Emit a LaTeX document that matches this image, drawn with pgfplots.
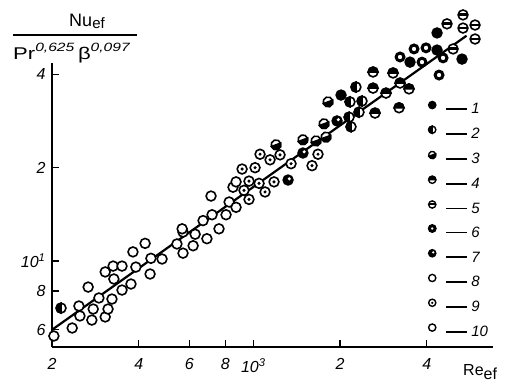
\documentclass[border=0pt]{standalone}
\usepackage{fontspec}
\setmainfont{Liberation Sans}
\usepackage{graphicx}
\usepackage{pgfplots}
\pgfplotsset{compat=1.18}
\usetikzlibrary{plotmarks}

\pgfdeclareplotmark{halfc}{%
  \pgfpathcircle{\pgfpointorigin}{\pgfplotmarksize}%
  \pgfsetfillcolor{white}\pgfusepathqfillstroke
  \pgfpathmoveto{\pgfqpoint{\pgfplotmarksize}{0pt}}%
  \pgfpatharc{0}{180}{\pgfplotmarksize}%
  \pgfpathclose
  \pgfsetfillcolor{black}\pgfusepathqfillstroke
}
\pgfdeclareplotmark{holefill}{%
  \pgfpathcircle{\pgfpointorigin}{\pgfplotmarksize}%
  \pgfsetfillcolor{black}\pgfusepathqfillstroke
  \pgfpathcircle{\pgfqpoint{0.25\pgfplotmarksize}{0.25\pgfplotmarksize}}{0.35\pgfplotmarksize}%
  \pgfsetfillcolor{white}\pgfusepathqfill
}
\pgfdeclareplotmark{ringthick}{%
  \pgfsetlinewidth{3pt}%
  \pgfpathcircle{\pgfpointorigin}{0.8\pgfplotmarksize}%
  \pgfsetfillcolor{white}\pgfusepathqfillstroke
}
\pgfdeclareplotmark{dotcirc}{%
  \pgfpathcircle{\pgfpointorigin}{\pgfplotmarksize}%
  \pgfsetfillcolor{white}\pgfusepathqfillstroke
  \pgfpathcircle{\pgfpointorigin}{0.35\pgfplotmarksize}%
  \pgfsetfillcolor{black}\pgfusepathqfill
}
\pgfdeclareplotmark{barcirc}{%
  \pgfpathcircle{\pgfpointorigin}{\pgfplotmarksize}%
  \pgfsetfillcolor{white}\pgfusepathqfillstroke
  \pgfpathrectangle{\pgfqpoint{-\pgfplotmarksize}{-0.15\pgfplotmarksize}}{\pgfqpoint{2\pgfplotmarksize}{0.45\pgfplotmarksize}}%
  \pgfsetfillcolor{black}\pgfusepathqfill
}
\pgfdeclareplotmark{opencirc}{%
  \pgfpathcircle{\pgfpointorigin}{\pgfplotmarksize}%
  \pgfsetfillcolor{white}\pgfusepathqfillstroke
}

\pgfplotsset{
  pt/.style={only marks, black, mark size=4.9pt, line width=1.6pt, mark options={solid}},
}
\newcommand{\lgd}[1]{\hspace{10pt}\rule[4pt]{21pt}{1.8pt}\hspace{4pt}\textit{#1}}

\begin{document}
\begin{tikzpicture}
\useasboundingbox (-52pt,-39pt) rectangle (453pt,347pt);
\begin{axis}[
  xmode=log, ymode=log,
  scale only axis, width=441pt, height=342pt,
  xmin=200, xmax=6796, ymin=5.28, ymax=66.95,
  axis x line=bottom, axis y line=left,
  axis line style={-, line width=1.8pt},
  y axis line style={draw=none},
  xtick={200,400,600,800,1000,2000,4000},
  xticklabels={2,4,6,8,10\textsuperscript{3},2,4},
  ytick={6,8,10,20,40},
  yticklabels={6,8,10\textsuperscript{1},2,4},
  minor xtick={}, minor ytick={},
  tick align=inside, major tick length=7pt,
  tick style={line width=1.3pt, black},
  tick label style={font=\fontsize{16}{18}\selectfont\itshape},
  xticklabel style={yshift=-8pt},
  yticklabel style={xshift=-3pt},
  clip=false,
  legend cell align=left,
  legend style={draw=none, fill=none, at={(axis description cs:0.853,0.718)}, anchor=north west,
    inner sep=0pt, outer sep=0pt, nodes={inner sep=0pt}, row sep=10.7pt,
    font=\fontsize{15}{16}\selectfont},
  legend image code/.code={\draw[mark repeat=2,mark phase=2,#1,mark size=3.6pt,line width=1.4pt] plot coordinates {(0pt,4.5pt) (8.5pt,4.5pt) (17pt,4.5pt)};},
]
\addplot[black, line width=2.2pt, forget plot] coordinates {(200,6.0) (5500,53.3)};

% series 1
\addplot[pt, mark=*, mark options={fill=black}] coordinates {
(2016,34.3) (4344,54.4) (4344,47.9) (3500,43.8) (5304,44.8)};
\addlegendentry{\lgd{1}}
% series 2
\addplot[pt, mark=halfc, mark options={rotate=90}] coordinates {
(215,7.05) (2166,32.6) (2150,29.1) (2184,27.1) (2272,36.4) (2385,32.8) (2328,30.2)};
\addlegendentry{\lgd{2}}
% series 3
\addplot[pt, mark=halfc, mark options={rotate=200}] coordinates {
(1199,23.7) (1487,24.6) (1651,24.4) (1788,25.1) (1760,27.7) (1817,32.6)};
\addlegendentry{\lgd{3}}
% series 4
\addplot[pt, mark=halfc] coordinates {
(2604,36.1) (2646,30.0) (2889,34.8) (3206,31.2) (3232,37.5) (3472,35.9) (3056,40.4) (2604,40.7)};
\addlegendentry{\lgd{4}}
% series 5
\addplot[pt, mark=barcirc] coordinates {
(5346,62.2) (4704,58.2) (5886,57.7) (5346,56.4) (5886,52.0) (4938,48.3)};
\addlegendentry{\lgd{5}}
% series 6
\addplot[pt, mark=ringthick] coordinates {
(3978,48.7) (3614,48.3) (3232,45.5) (3852,43.8) (4558,45.2) (4414,39.8)};
\addlegendentry{\lgd{6}}
% series 7
\addplot[pt, mark=holefill] coordinates {
(1320,18.25) (1487,22.3) (1953,28.3)};
\addlegendentry{\lgd{7}}
% series 8
\addplot[pt, mark=opencirc] coordinates {
(543,11.35) (570,10.6) (618,11.2) (570,12.4) (628,12.2) (690,11.8) (566,12.7) (669,13.5)
(719,14.1) (760,12.7) (713,16.2) (804,14.1) (824,15.5) (850,17.3) (871,18.0) (871,14.9)};
\addlegendentry{\lgd{8}}
% series 9
\addplot[pt, mark=dotcirc] coordinates {
(914,19.8) (928,16.9) (966,15.8) (966,18.1) (1014,20.0) (1047,17.8) (1098,16.7) (1055,22.1)
(1143,21.2) (1180,18.0) (1238,22.0) (1352,20.6) (1599,20.3) (1677,22.1)};
\addlegendentry{\lgd{9}}
% series 10
\addplot[pt, mark=opencirc] coordinates {
(203,5.73) (235,6.08) (248,7.16) (250,6.65) (267,8.24) (278,7.00) (275,6.45) (291,7.60)
(306,6.60) (306,9.22) (313,7.00) (323,7.54) (326,9.63) (328,8.75) (350,9.63) (350,8.06)
(376,8.43) (382,10.7) (391,9.56) (421,11.4) (438,9.08) (441,10.2) (482,10.15)};
\addlegendentry{\lgd{10}}

\draw[line width=1.8pt] (axis cs:200,5.28) -- (axis cs:200,43.5);
\end{axis}
% y label as a fraction
\node[anchor=base, inner sep=0pt] at (35pt,320pt) {\fontsize{18}{18}\selectfont Nu\raisebox{-2pt}{\fontsize{15}{15}\selectfont ef}};
\draw[line width=1.5pt] (-39pt,312pt) -- (85pt,312pt);
\node[anchor=base west, inner sep=0pt] at (-39pt,287pt) {\scalebox{1.3}[1]{\fontsize{17}{17}\selectfont Pr\raisebox{8pt}{\fontsize{12}{12}\selectfont\itshape 0,625}\,β\raisebox{8pt}{\fontsize{12}{12}\selectfont\itshape 0,097}}};
% x label
\node[anchor=base west, inner sep=0pt] at (411pt,-28pt) {\fontsize{16}{16}\selectfont Re\raisebox{-4pt}{ef}};
\end{tikzpicture}
\end{document}
